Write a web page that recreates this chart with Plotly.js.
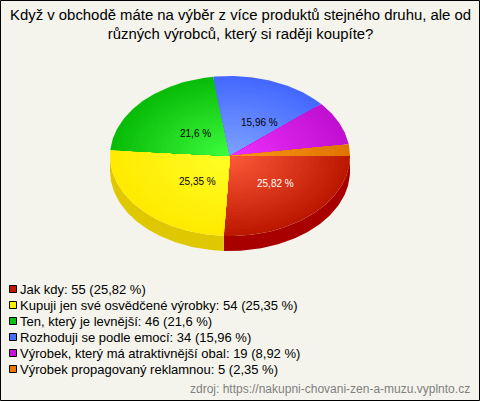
<!DOCTYPE html>
<html><head><meta charset="utf-8">
<script src="https://cdn.plot.ly/plotly-3.0.1.min.js"></script>
<style>html,body{margin:0;padding:0;background:#f4f4ec}#c{width:480px;height:401px}</style>
</head><body><div id="c"></div>
<script>
const categories = ["Jak kdy","Kupuji jen své osvědčené výrobky","Ten, který je levnější","Rozhoduji se podle emocí","Výrobek, který má atraktivnější obal","Výrobek propagovaný reklamnou"];
const counts = [55,54,46,34,19,5];
const percentLabels = ["25,82 %","25,35 %","21,6 %","15,96 %","8,92 %","2,35 %"];
const innerColors = ["#ff5c3c","#ffff28","#40ff40","#80a4ff","#f030ff","#ff9818"];
const outerColors = ["#bc1800","#ffea00","#08bc08","#4468ff","#c010d0","#e07400"];
const swatchColors = ["#c01800","#ffee00","#10c010","#4870ff","#c814d8","#e87800"];
const wallColors = ["#a80000","#e0c800",null,null,null,null];
const titleText = "Když v obchodě máte na výběr z více produktů stejného druhu, ale od<br>různých výrobců, který si raději koupíte?";
const sourceText = "zdroj: https://nakupni-chovani-zen-a-muzu.vyplnto.cz";

const cx=230, cy=156, rx=120, ry=80, depth=15, bands=24;
const labelAt=[[275,183],[197,181],[195,133],[259,122]];
const total=counts.reduce((a,b)=>a+b,0);
const mix=(a,b,t)=>{const p=s=>[1,3,5].map(i=>parseInt(s.substr(i,2),16));const A=p(a),B=p(b);
  return 'rgb('+A.map((v,i)=>Math.round(v+(B[i]-v)*t)).join(',')+')';};
const arc=(a0,a1,k,dy)=>{const xs=[],ys=[];const n=Math.max(2,Math.ceil((a1-a0)/1));
  for(let i=0;i<=n;i++){const a=(a0+(a1-a0)*i/n)*Math.PI/180;xs.push(cx+rx*k*Math.cos(a));ys.push(cy+dy+ry*k*Math.sin(a));}
  return [xs,ys];};
const traces=[];
const base={type:'scatter',mode:'lines',line:{width:0},fill:'toself',hoverinfo:'skip',showlegend:false};
let acc=0;const spans=counts.map(v=>{const s=[acc/total*360,(acc+v)/total*360];acc+=v;return s;});
// side walls
spans.forEach((s,i)=>{ if(!wallColors[i])return;
  const a1=Math.min(s[1],180);const [x0,y0]=arc(s[0],a1,1,0);const [x1,y1]=arc(s[0],a1,1,depth);
  traces.push({...base,x:x0.concat(x1.reverse()),y:y0.concat(y1.reverse()),fillcolor:wallColors[i]});
});
// top faces: concentric wedges painted from the rim inward
spans.forEach((s,i)=>{ for(let b=0;b<bands;b++){const k=1-b/bands;
  const [x,y]=arc(s[0],s[1],k,0);
  traces.push({...base,x:[cx].concat(x,[cx]),y:[cy].concat(y,[cy]),fillcolor:mix(innerColors[i],outerColors[i],k)});
}});
// legend swatches
const rowY=categories.map((_,i)=>289+16*i);
traces.push({type:'scatter',mode:'markers',x:categories.map(()=>13),y:rowY,hoverinfo:'skip',showlegend:false,
  marker:{symbol:'square',size:7,color:swatchColors,line:{color:'#000',width:1}}});
const ann=[];
labelAt.forEach((p,i)=>ann.push({x:p[0],y:p[1],text:percentLabels[i],showarrow:false,xanchor:'center',yanchor:'middle',
  font:{family:'Liberation Sans, Arial',size:10,color:i===0?'#fff':'#000'}}));
categories.forEach((c,i)=>ann.push({x:20,y:rowY[i],text:c+': '+counts[i]+' ('+percentLabels[i]+')',showarrow:false,xanchor:'left',yanchor:'middle',xshift:-2,
  font:{family:'Liberation Sans, Arial',size:13,color:'#000'}}));
ann.push({x:470,y:389,text:sourceText,showarrow:false,xanchor:'right',yanchor:'middle',xshift:2,font:{family:'Liberation Sans, Arial',size:12,color:'#808080'}});
ann.push({x:240,y:24,text:titleText,showarrow:false,xanchor:'center',yanchor:'middle',align:'center',font:{family:'Liberation Sans, Arial',size:14.9,color:'#000'}});
const layout={width:480,height:401,margin:{l:0,r:0,t:0,b:0},paper_bgcolor:'#f4f4ec',plot_bgcolor:'#f4f4ec',showlegend:false,
  xaxis:{range:[0,480],visible:false,fixedrange:true},yaxis:{range:[401,0],visible:false,fixedrange:true},annotations:ann,
  shapes:[{type:'rect',xref:'x',yref:'y',x0:0.5,y0:0.5,x1:479.5,y1:400.5,line:{color:'#000',width:1},fillcolor:'rgba(0,0,0,0)'}]};
Plotly.newPlot('c',traces,layout,{staticPlot:true,displayModeBar:false});
</script></body></html>
